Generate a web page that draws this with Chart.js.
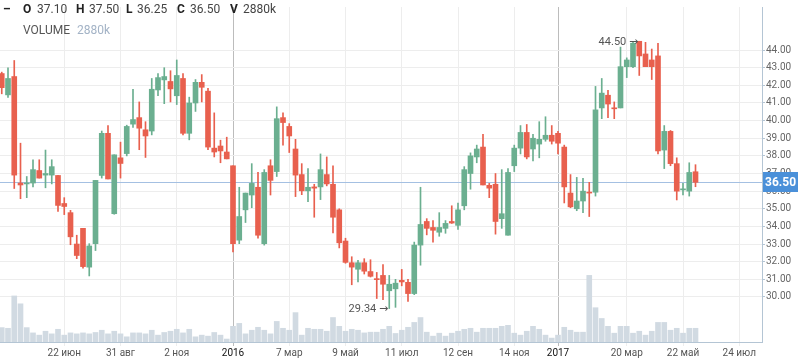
<!DOCTYPE html>
<html>
<head>
<meta charset="utf-8">
<script src="https://cdn.jsdelivr.net/npm/chart.js@4.4.1/dist/chart.umd.min.js"></script>
<style>
  html, body { margin: 0; padding: 0; background: #fff; overflow: hidden; }
  canvas { display: block; }
</style>
</head>
<body>
<canvas id="chart" width="798" height="363"></canvas>
<script>
// Weekly candles, one per index
const opens = [42.67,41.46,42.50,36.46,36.41,36.46,37.17,36.91,36.91,36.89,35.30,34.78,33.00,33.89,31.69,33.02,36.89,39.28,34.72,37.89,
  38.13,39.80,40.17,39.48,39.41,41.74,42.31,42.22,41.41,42.39,39.28,41.00,42.17,41.67,38.44,38.56,38.22,37.44,33.22,34.94,
  35.78,36.22,33.02,37.44,37.11,40.17,39.67,38.39,36.94,36.02,36.24,36.24,36.94,36.39,34.94,33.17,31.94,31.57,31.94,31.44,
  31.02,31.22,30.35,30.46,30.94,30.83,30.19,32.94,34.28,33.94,33.67,33.89,34.28,34.06,35.17,37.00,37.94,38.50,36.33,36.39,
  34.44,33.50,37.44,38.44,39.33,38.39,38.67,38.94,39.17,39.28,38.50,35.89,35.00,35.44,35.94,35.94,40.72,41.44,40.72,40.72,
  43.06,43.06,44.50,43.78,43.44,43.67,38.33,39.39,37.56,36.07,36.00,37.10];
const highs = [42.75,43.00,43.41,38.72,36.83,37.78,37.78,38.33,37.78,36.89,35.63,34.91,33.50,33.89,33.02,36.61,39.41,39.72,38.06,38.78,
  39.74,41.78,41.06,39.94,42.39,42.67,43.00,42.83,43.44,42.67,41.33,42.33,42.61,41.83,40.44,38.89,39.06,37.44,36.22,35.89,
  37.56,37.06,37.22,37.78,40.78,40.44,39.83,38.94,37.56,37.28,36.39,38.11,37.94,37.44,35.00,33.33,32.28,32.07,32.17,32.11,
  31.39,31.83,31.22,31.00,31.56,31.00,33.11,36.22,34.44,34.33,34.78,34.33,35.17,35.33,37.39,38.17,38.61,39.22,36.44,37.00,
  37.22,37.28,38.61,39.72,39.78,39.22,39.94,40.22,39.72,39.39,38.61,36.94,36.78,36.72,36.50,41.94,42.39,41.72,41.06,44.17,
  43.56,44.44,44.50,44.44,44.06,44.39,39.72,39.44,37.89,36.44,37.61,37.50];
const lows = [41.52,41.31,36.15,35.57,35.63,36.24,36.74,36.19,36.41,34.85,34.67,32.96,32.17,31.63,31.19,32.63,36.74,36.69,34.69,36.74,
  38.00,39.61,38.35,37.91,39.19,41.41,40.96,41.06,40.91,39.19,38.91,40.52,41.06,38.35,37.94,37.61,37.83,32.56,33.02,34.22,
  35.06,33.33,32.94,35.78,36.83,38.61,38.19,35.69,35.80,35.41,34.52,35.52,36.30,33.63,32.78,31.91,30.69,30.85,31.30,31.13,
  29.91,29.85,29.34,29.41,30.63,29.74,30.13,31.80,33.52,33.11,33.44,33.61,34.17,33.83,34.94,36.11,37.61,36.35,35.63,33.56,
  33.89,33.50,37.11,38.11,37.83,37.72,37.89,38.83,38.67,38.11,35.33,35.06,34.89,34.78,34.56,35.72,40.11,40.17,40.11,40.72,
  42.44,43.00,42.56,43.06,42.33,38.11,37.28,37.44,35.50,35.78,35.72,36.25];
const closes = [41.87,42.39,36.91,36.35,36.46,37.22,36.74,37.00,37.39,35.19,35.13,33.41,32.35,31.72,32.89,36.61,39.28,36.69,38.06,37.57,
  39.67,40.06,39.57,39.13,41.78,42.44,42.50,41.80,42.56,39.28,41.00,42.17,41.89,38.50,38.22,38.28,37.83,33.02,34.56,35.89,
  36.44,33.50,37.06,36.61,40.11,39.89,39.13,36.91,36.02,36.22,36.17,37.22,36.41,34.52,33.07,31.96,31.69,31.94,31.46,31.17,
  30.98,30.72,30.72,30.78,30.85,30.19,32.94,34.11,33.89,33.78,33.94,34.17,34.19,34.94,37.22,38.00,38.39,36.35,36.17,34.28,
  34.72,37.06,38.44,39.33,37.94,39.00,38.94,39.17,38.83,38.72,36.24,35.11,35.44,36.00,35.89,40.61,41.56,40.94,40.67,43.06,
  43.44,44.39,43.67,43.06,43.06,38.28,39.39,37.56,36.00,36.13,37.06,36.50];
// Volume in thousands
const volumes = [3020,2880,9670,8020,3020,1910,1440,2260,1710,2670,1440,1910,1710,1910,1710,2000,2470,1710,2260,1710,
  1090,1910,1910,1710,2470,1440,2000,2260,2670,1910,2670,1090,1440,1230,2000,1440,620,3290,3910,1710,
  2470,3090,2470,1710,4320,2880,2470,6170,1440,2880,2670,2670,2260,5140,3290,2260,2670,2470,1910,2060,
  2060,2670,3290,1790,2470,3090,4110,5140,2060,1230,1850,1230,1850,2260,2670,2880,2060,2880,2880,2880,
  3290,3500,1850,1440,2260,3290,2670,1440,820,1440,3090,2470,2060,2060,13990,7200,4940,3290,1850,3290,
  3290,1850,2260,1440,2260,4110,4110,2470,2880,1850,2880,2880];

const tickIndex = [10, 19, 28, 37, 46, 55, 64, 73, 82, 89, 100, 109, 118];
const tickText = ['22 июн', '31 авг', '2 ноя', '2016', '7 мар', '9 май', '11 июл', '12 сен', '14 ноя', '2017', '20 мар', '22 май', '24 июл'];
const yearIndex = [37, 89];
const priceTicks = [30, 31, 32, 33, 34, 35, 36, 37, 38, 39, 40, 41, 42, 43, 44];
const maxMark = { index: 102, value: 44.50 };
const minMark = { index: 62, value: 29.34 };

const UP = '#6baf90';
const DOWN = '#e8604e';
const FONT = "Roboto, 'Liberation Sans', Arial, sans-serif";

const last = closes.length - 1;
const isUp = i => closes[i] >= opens[i];

const candlePlugin = {
    id: 'decor',
    beforeDatasetsDraw(chart) {
        // last price line
        const { ctx, chartArea, scales } = chart;
        const y = Math.round(scales.y.getPixelForValue(closes[last])) + 0.5;
        ctx.save();
        ctx.strokeStyle = '#a4c0e2';
        ctx.lineWidth = 1;
        ctx.beginPath();
        ctx.moveTo(chartArea.left, y);
        ctx.lineTo(chartArea.right, y);
        ctx.stroke();
        ctx.restore();
    },
    afterDraw(chart) {
        const { ctx, chartArea, scales } = chart;
        ctx.save();

        // high / low markers
        ctx.fillStyle = '#555';
        ctx.textAlign = 'right';
        ctx.textBaseline = 'middle';
        [maxMark, minMark].forEach(m => {
            const x = scales.x.getPixelForValue(m.index);
            const y = scales.y.getPixelForValue(m.value);
            ctx.font = "11px 'DejaVu Sans', sans-serif";
            ctx.fillText('→', x - 1, y + 1);
            ctx.font = '11px ' + FONT;
            ctx.fillText(m.value.toFixed(2), x - 13, y + 1);
        });

        // last price badge
        const y = scales.y.getPixelForValue(closes[last]);
        ctx.fillStyle = '#4a90d9';
        ctx.fillRect(chartArea.right + 1, Math.round(y) - 10, 35, 20);
        ctx.fillStyle = '#fff';
        ctx.font = 'bold 12px ' + FONT;
        ctx.textAlign = 'center';
        ctx.fillText(closes[last].toFixed(2), chartArea.right + 18.5, Math.round(y) + 0.5);

        // header
        ctx.textAlign = 'left';
        const row1 = 10, row2 = 30.5;
        ctx.fillStyle = '#222';
        ctx.font = 'bold 12px ' + FONT;
        ctx.fillText('–', 3, row1);
        const parts = [
            ['O', opens[last].toFixed(2), 23, 37],
            ['H', highs[last].toFixed(2), 76, 89],
            ['L', lows[last].toFixed(2), 126, 137],
            ['C', closes[last].toFixed(2), 177, 190],
            ['V', volumes[last] + 'k', 230, 243]
        ];
        parts.forEach(p => {
            ctx.font = 'bold 12px ' + FONT;
            ctx.fillStyle = '#222';
            ctx.fillText(p[0], p[2], row1);
            ctx.font = '12px ' + FONT;
            ctx.fillStyle = '#444';
            ctx.fillText(p[1], p[3], row1);
        });
        ctx.font = '12px ' + FONT;
        ctx.fillStyle = '#555';
        ctx.fillText('VOLUME', 23, row2);
        ctx.fillStyle = '#a3b3c6';
        ctx.fillText(volumes[last] + 'k', 77, row2);
        ctx.restore();
    }
};

const idx = opens.map((_, i) => i);

new Chart(document.getElementById('chart'), {
    type: 'bar',
    data: {
        datasets: [
            {
                label: 'body',
                data: idx.map(i => ({ x: i, y: [opens[i], closes[i]] })),
                backgroundColor: ctx => isUp(ctx.dataIndex) ? UP : DOWN,
                barThickness: 5,
                minBarLength: 1,
                grouped: false,
                yAxisID: 'y',
                order: 1
            },
            {
                label: 'wick',
                data: idx.map(i => ({ x: i, y: [lows[i], highs[i]] })),
                backgroundColor: ctx => isUp(ctx.dataIndex) ? UP : DOWN,
                barThickness: 1,
                grouped: false,
                yAxisID: 'y',
                order: 2
            },
            {
                label: 'volume',
                data: idx.map(i => ({ x: i, y: volumes[i] })),
                backgroundColor: '#d1dae2',
                barThickness: 5,
                grouped: false,
                yAxisID: 'vol',
                order: 3
            }
        ]
    },
    options: {
        responsive: false,
        devicePixelRatio: 1,
        animation: false,
        layout: { padding: 0 },
        plugins: { legend: { display: false }, tooltip: { enabled: false } },
        scales: {
            x: {
                type: 'linear',
                offset: false,
                min: -0.28,
                max: 121.64,
                afterBuildTicks: s => { s.ticks = tickIndex.map(v => ({ value: v })); },
                afterFit: s => { s.height = 21; },
                ticks: {
                    autoSkip: false,
                    maxRotation: 0,
                    padding: 1,
                    font: { family: FONT, size: 10 },
                    color: ctx => yearIndex.includes(ctx.tick && ctx.tick.value) ? '#111' : '#555',
                    callback: v => tickText[tickIndex.indexOf(v)]
                },
                grid: {
                    offset: false,
                    color: ctx => yearIndex.includes(ctx.tick && ctx.tick.value) ? '#bcbcbc' : '#ededed',
                    tickLength: 4
                },
                border: { color: '#b4c5d4' }
            },
            y: {
                position: 'right',
                min: 27.444,
                max: 46.444,
                afterBuildTicks: s => { s.ticks = priceTicks.map(v => ({ value: v })); },
                afterFit: s => { s.width = 36; },
                ticks: {
                    padding: 1,
                    font: { family: FONT, size: 10 },
                    color: '#666',
                    callback: v => v.toFixed(2)
                },
                grid: { color: '#ededed', tickLength: 3, tickColor: '#b4c5d4' },
                border: { color: '#b4c5d4' }
            },
            vol: {
                display: false,
                min: 0,
                max: 70354
            }
        }
    },
    plugins: [candlePlugin]
});
</script>
</body>
</html>
